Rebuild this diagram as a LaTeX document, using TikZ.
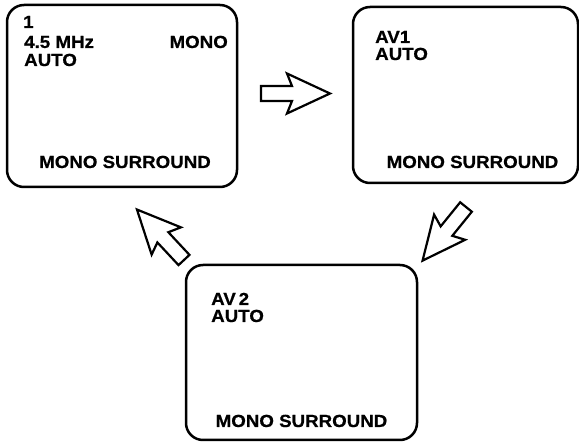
\documentclass[tikz,border=0pt]{standalone}
\usepackage{fontspec}
\setmainfont{Liberation Sans}[FakeStretch=1.07, FakeBold=0.6]
\usepackage{tikz}
\usetikzlibrary{calc}
\usetikzlibrary{positioning}
\tikzset{>=latex}
\tikzstyle{screen} = [draw, rounded corners=17pt, line width=2.5pt, inner sep=0]
\tikzstyle{osd} = [draw=none, inner sep=0, font=\fontsize{17.5}{21}\selectfont\bfseries]
\tikzstyle{arrowline} = [line width=2.2pt, line join=miter, fill=white]
\tikzset{
  fatarrow/.pic={\draw [arrowline] (0,7.5) -- (31,7.5) -- (26,20) -- (69,0) -- (26,-20) -- (31,-7.5) -- (0,-7.5) -- cycle;}
}

\begin{document}
\begin{tikzpicture}[x=1pt, y=-1pt]
\useasboundingbox (0,0) rectangle (579,443);
% screens
\node [screen, minimum width=230pt, minimum height=182pt] (S1) at (122, 96) {};
\node [screen, minimum width=225pt, minimum height=176pt] (S2) at (465.5, 95) {};
\node [screen, minimum width=231pt, minimum height=175pt] (S3) at (301.5, 352.5) {};
% on screen texts
\node [osd, anchor=base west] (S1a) at (23, 28) {1};
\node [osd, anchor=base west] (S1b) at (24, 48) {4.5 MHz};
\node [osd, anchor=base west] (S1c) at (24, 66) {AUTO};
\node [osd, anchor=base east] (S1d) at (228, 48) {MONO};
\node [osd, anchor=base] (S1e) at (125, 168) {MONO SURROUND};
\node [osd, anchor=base west] (S2a) at (375, 43) {AV1};
\node [osd, anchor=base west] (S2b) at (375, 60) {AUTO};
\node [osd, anchor=base] (S2c) at (472.5, 168) {MONO SURROUND};
\node [osd, anchor=base west] (S3a) at (211, 305) {AV\,2};
\node [osd, anchor=base west] (S3b) at (211, 322) {AUTO};
\node [osd, anchor=base] (S3c) at (301.5, 427) {MONO SURROUND};
% arrows
\pic at (261, 93.5) {fatarrow};
\pic [rotate=231] at (466, 207) {fatarrow};
\pic [rotate=133] at (184, 260) {fatarrow};
\end{tikzpicture}
\end{document}
